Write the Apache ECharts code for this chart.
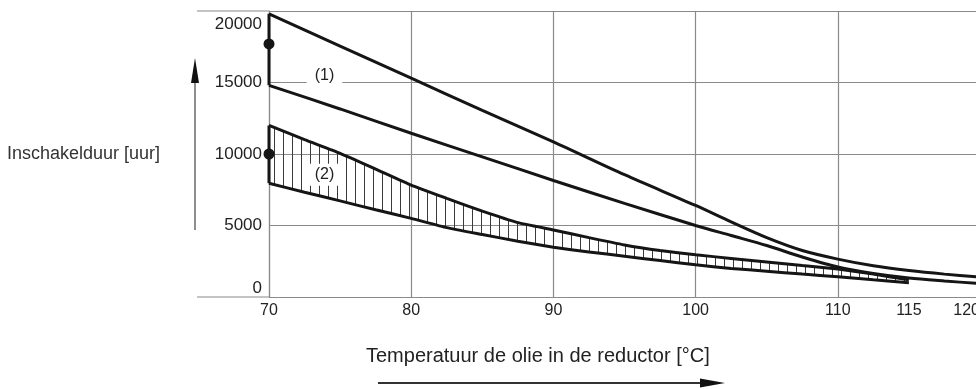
<!DOCTYPE html>
<html><head><meta charset="utf-8">
<script src="https://cdn.jsdelivr.net/npm/echarts@6/dist/echarts.min.js"></script>
<style>html,body{margin:0;padding:0;background:#fff}#c{width:976px;height:389px}</style>
</head><body><div id="c"></div>
<script>
// ---- data ----
const xTickLabels = [70, 80, 90, 100, 110, 115, 120];
const band1X     = [70, 75, 80, 85, 90, 95, 100, 102.5, 105, 107.5, 110, 112.5, 115, 117.5, 120];
const band1Upper = [19800, 17550, 15300, 13050, 10850, 8550, 6400, 5250, 4150, 3250, 2650, 2180, 1850, 1600, 1400];
const band1Lower = [14800, 13150, 11450, 9800, 8150, 6550, 5000, 4300, 3600, 2800, 2100, 1650, 1330, 1120, 940];
const band2X     = [70, 72.5, 75, 77.5, 80, 82.5, 85, 87.5, 90, 92.5, 95, 97.5, 100, 102.5, 105, 107.5, 110, 112.5, 115];
const band2Upper = [12000, 11000, 10050, 8950, 7830, 6900, 6000, 5200, 4690, 4150, 3640, 3250, 2950, 2700, 2450, 2200, 1950, 1600, 1200];
const band2Lower = [7950, 7330, 6720, 6100, 5500, 4850, 4370, 3900, 3480, 3150, 2850, 2550, 2250, 2000, 1800, 1600, 1420, 1200, 1000];
const markerX = 70;
const markerY = [17700, 10000];
const bandLabels = ['(1)', '(2)'];
const bandLabelX = [73.9, 73.9];
const bandLabelY = [15500, 8550];
const xTitle = 'Temperatuur de olie in de reductor [°C]';
const yTitle = 'Inschakelduur [uur]';

// ---- chart ----
const FONT = 'Liberation Sans';
const INK = '#151515';
const GRID = '#8a8a8a';
const zip = (xs, ys) => xs.map((x, i) => [x, ys[i]]);

const pc = document.createElement('canvas');
pc.width = 9; pc.height = 8;
const g = pc.getContext('2d');
g.fillStyle = '#3a3a3a';
g.fillRect(4, 0, 1, 8);

const lineBase = { type: 'line', smooth: 0.3, symbol: 'none', xAxisIndex: 0, lineStyle: { color: INK, width: 3 }, z: 5 };

const chart = echarts.init(document.getElementById('c'), null, { renderer: 'canvas' });
chart.setOption({
  animation: false,
  backgroundColor: '#fff',
  title: [
    { text: yTitle, left: 7, top: 145, padding: 0, textStyle: { fontFamily: FONT, fontSize: 18, fontWeight: 'normal', color: '#333' } },
    { text: xTitle, left: 366, top: 346, padding: 0, textStyle: { fontFamily: FONT, fontSize: 20, fontWeight: 'normal', color: '#222' } }
  ],
  grid: { left: 269, right: -4, top: 11, bottom: 92, containLabel: false, outerBoundsMode: 'none' },
  xAxis: [
    { type: 'value', min: 70, max: 120, interval: 5,
      axisLine: { show: false }, axisTick: { show: false }, splitLine: { show: false },
      axisLabel: { formatter: v => xTickLabels.includes(v) ? String(v) : '', fontFamily: FONT, fontSize: 16, color: '#222', margin: 6, alignMaxLabel: 'right', showMaxLabel: true, showMinLabel: true } },
    { type: 'value', min: 70, max: 120, interval: 10, position: 'bottom',
      axisLine: { show: false }, axisTick: { show: false }, axisLabel: { show: false },
      splitLine: { show: true, lineStyle: { color: GRID, width: 1.2 } } }
  ],
  yAxis: {
    type: 'value', min: 0, max: 20000, interval: 5000,
    axisLine: { show: true, lineStyle: { color: GRID, width: 1.2 } }, axisTick: { show: false },
    splitLine: { show: true, lineStyle: { color: GRID, width: 1.2 } },
    axisLabel: { formatter: v => v === 20000 ? '{top|' + v + '}' : String(v), fontFamily: FONT, fontSize: 17, color: '#222', margin: 7,
      verticalAlignMaxLabel: 'top', verticalAlignMinLabel: 'bottom',
      rich: { top: { fontFamily: FONT, fontSize: 17, color: '#222', padding: [5, 0, 0, 0] } } }
  },
  series: [
    { type: 'custom', name: 'hatch', xAxisIndex: 0, z: 3, data: [[band2X[0], band2Upper[0]]],
      renderItem: (params, api) => {
        const pts = band2X.map((x, i) => api.coord([x, band2Upper[i]]))
          .concat(band2X.map((x, i) => api.coord([x, band2Lower[i]])).reverse());
        return { type: 'polygon', shape: { points: pts, smooth: 0 }, style: { fill: { image: pc, repeat: 'repeat' } } };
      } },
    Object.assign({}, lineBase, { name: 'b1u', data: zip(band1X, band1Upper) }),
    Object.assign({}, lineBase, { name: 'b1l', data: zip(band1X, band1Lower) }),
    Object.assign({}, lineBase, { name: 'b1e', smooth: false, data: [[band1X[0], band1Upper[0]], [band1X[0], band1Lower[0]]] }),
    Object.assign({}, lineBase, { name: 'b2u', smooth: 0.15, data: zip(band2X, band2Upper) }),
    Object.assign({}, lineBase, { name: 'b2l', smooth: 0.15, data: zip(band2X, band2Lower) }),
    Object.assign({}, lineBase, { name: 'b2e', smooth: false, data: [[band2X[0], band2Upper[0]], [band2X[0], band2Lower[0]]] }),
    { type: 'scatter', name: 'markers', data: markerY.map(y => [markerX, y]), symbol: 'circle', symbolSize: 11,
      itemStyle: { color: INK, opacity: 1 }, z: 6 },
    { type: 'scatter', name: 'labels', data: bandLabels.map((t, i) => ({ name: t, value: [bandLabelX[i], bandLabelY[i]] })),
      symbolSize: 0, z: 7, itemStyle: { opacity: 1 },
      label: { show: true, position: 'inside', formatter: p => p.name, fontFamily: FONT, fontSize: 16, color: '#222', backgroundColor: '#fff', padding: [3, 8] } }
  ]
});

const p0 = chart.convertToPixel({ gridIndex: 0 }, [70, 0]);
const p1 = chart.convertToPixel({ gridIndex: 0 }, [70, 20000]);
chart.setOption({
  graphic: [
    { type: 'line', shape: { x1: 197, y1: p0[1], x2: p0[0], y2: p0[1] }, style: { stroke: GRID, lineWidth: 1.2 } },
    { type: 'line', shape: { x1: 197, y1: p1[1], x2: p1[0], y2: p1[1] }, style: { stroke: GRID, lineWidth: 1.2 } },
    { type: 'line', shape: { x1: 195, y1: 230, x2: 195, y2: 78 }, style: { stroke: '#444', lineWidth: 1.2 } },
    { type: 'polygon', shape: { points: [[191, 83], [195, 58], [199, 83]] }, style: { fill: '#111' } },
    { type: 'line', shape: { x1: 378, y1: 383, x2: 705, y2: 383 }, style: { stroke: '#333', lineWidth: 2 } },
    { type: 'polygon', shape: { points: [[700, 378.5], [725, 383], [700, 387.5]] }, style: { fill: '#111' } }
  ]
});
</script>
</body></html>
